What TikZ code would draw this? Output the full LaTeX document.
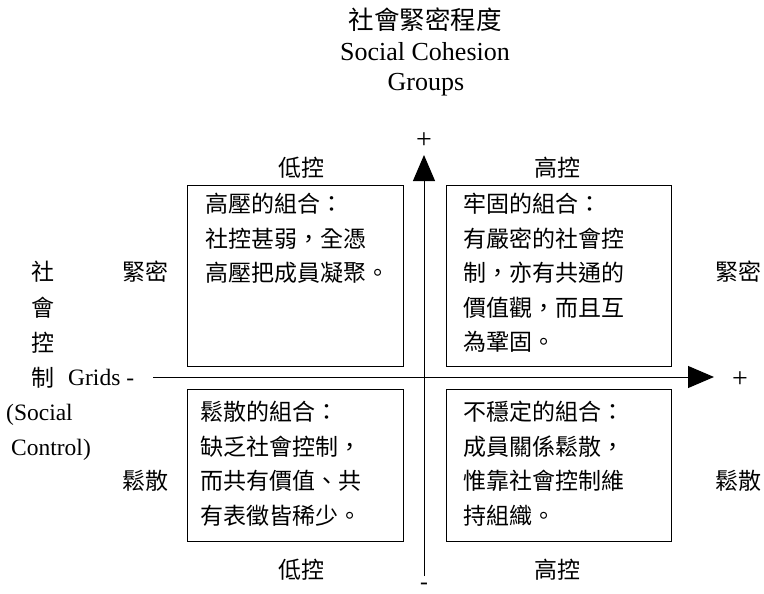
\documentclass[tikz,border=0pt]{standalone}
\usepackage{fontspec}
\setmainfont{Liberation Serif}
\newfontfamily\cjk{Noto Sans CJK TC}
\usetikzlibrary{arrows.meta}
\begin{document}
\begin{tikzpicture}[x=1pt,y=-1pt,
  lat/.style={font=\fontsize{23.5}{28}\selectfont, inner sep=0pt},
  sign/.style={font=\fontsize{28}{30}\selectfont, inner sep=0pt},
  ttl/.style={font=\fontsize{26}{30}\selectfont, inner sep=0pt},
  zh/.style={font=\cjk\fontsize{23}{28}\selectfont, inner sep=0pt},
  quad/.style={draw, line width=1pt, inner sep=0pt, anchor=north west},
  boxtext/.style={font=\cjk\fontsize{23}{34.5}\selectfont, inner sep=0pt, anchor=north west, align=left},
  axis/.style={line width=1pt, -{Triangle[length=26pt,width=22pt]}}]
\useasboundingbox (0,0) rectangle (764,594);
% title
\node[zh, font=\cjk\fontsize{25.5}{30}\selectfont] (t1) at (425,20) {社會緊密程度};
\node[ttl] (t2) at (425,52) {Social Cohesion};
\node[ttl] (t3) at (426,85) {Groups};
% axes
\coordinate (vbot) at (424,576);
\coordinate (vtop) at (424,155);
\coordinate (hleft) at (153,377);
\coordinate (hright) at (714,377);
\draw[axis] (vbot) -- (vtop);
\draw[axis] (hleft) -- (hright);
\node[sign] (vplus) at (424,141) {+};
\node[lat] (vminus) at (424,586) {-};
\node[sign] (hplus) at (740,380) {+};
% boxes
\node[quad, minimum width=216pt, minimum height=181pt] (tl) at (187,185) {};
\node[quad, minimum width=225pt, minimum height=181pt] (tr) at (446,185) {};
\node[quad, minimum width=216pt, minimum height=152pt] (bl) at (187,389) {};
\node[quad, minimum width=225pt, minimum height=152pt] (br) at (446,389) {};
\node[boxtext] (tlt) at (205,193) {高壓的組合：\\社控甚弱，全憑\\高壓把成員凝聚。};
\node[boxtext] (trt) at (463,193) {牢固的組合：\\有嚴密的社會控\\制，亦有共通的\\價值觀，而且互\\為鞏固。};
\node[boxtext] (blt) at (200,401) {鬆散的組合：\\缺乏社會控制，\\而共有價值、共\\有表徵皆稀少。};
\node[boxtext] (brt) at (463,401) {不穩定的組合：\\成員關係鬆散，\\惟靠社會控制維\\持組織。};
% column labels
\node[zh] (lc1) at (301,168) {低控};
\node[zh] (hc1) at (557,168) {高控};
\node[zh] (lc2) at (301,570) {低控};
\node[zh] (hc2) at (557,570) {高控};
% row labels
\node[zh] (tight1) at (145,272) {緊密};
\node[zh] (tight2) at (738,272) {緊密};
\node[zh] (loose1) at (145,481) {鬆散};
\node[zh] (loose2) at (738,481) {鬆散};
% left vertical label
\node[zh] (s1) at (43,272) {社};
\node[zh] (s2) at (43,308) {會};
\node[zh] (s3) at (43,343) {控};
\node[zh] (s4) at (43,378) {制};
\node[lat, anchor=base west] (grids) at (68,385) {Grids -};
\node[lat, anchor=base west] (soc) at (6,420) {(Social};
\node[lat, anchor=base west] (ctl) at (11,455) {Control)};
\end{tikzpicture}
\end{document}
